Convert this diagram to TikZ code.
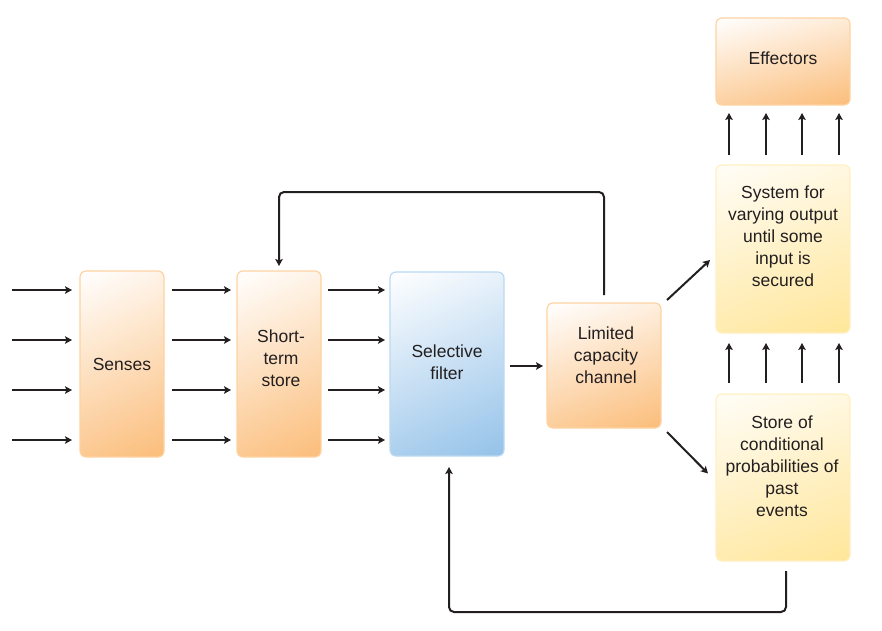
\documentclass[tikz,border=0pt]{standalone}
\usepackage{fontspec}
\setmainfont{Liberation Sans}
\usetikzlibrary{arrows.meta,calc,shadings}
\definecolor{ink}{HTML}{231F20}
\definecolor{orA}{HTML}{FBBD7A}
\definecolor{orL}{HTML}{FDD3A2}
\definecolor{blA}{HTML}{94C2E9}
\definecolor{blL}{HTML}{BCD9F1}
\definecolor{yeA}{HTML}{FFE699}
\definecolor{yeL}{HTML}{FFEFC2}
\tikzset{
  boxbase/.style={rectangle, rounded corners=6pt, inner sep=0pt, outer sep=0pt, line width=1.2pt},
  gbox/.style n args={4}{boxbase, draw=#4, upper left=#1!#2!white, upper right=#1!#3!white,
     lower left=#1!\the\numexpr 100-#3+#2\relax!white, lower right=#1},
  lbl/.style={text=ink, align=center, font=\fontsize{17.5}{22}\selectfont, inner sep=0pt},
  arr/.style={draw=ink, line width=2pt, -{Stealth[length=7pt,width=7.5pt,inset=1.5pt]}},
}
\begin{document}
\begin{tikzpicture}[x=1pt,y=-1pt]
\useasboundingbox (0,0) rectangle (882,630);
% boxes
\node[gbox={orA}{0}{18}{orL}, minimum width=84pt, minimum height=186pt] (senses) at (122,364) {};
\node[gbox={orA}{0}{18}{orL}, minimum width=84pt, minimum height=186pt] (sts) at (279,364) {};
\node[gbox={blA}{0}{22}{blL}, minimum width=114pt, minimum height=184pt] (filter) at (447,364) {};
\node[gbox={orA}{0}{25}{orL}, minimum width=114pt, minimum height=125pt] (lcc) at (604,365.5) {};
\node[gbox={orA}{0}{30}{orL}, minimum width=134pt, minimum height=87pt] (eff) at (783,61.5) {};
\node[gbox={yeA}{8}{30}{yeL}, minimum width=134pt, minimum height=168pt] (sys) at (783,249) {};
\node[gbox={yeA}{8}{30}{yeL}, minimum width=134pt, minimum height=167pt] (store) at (783,477.5) {};
% labels
\node[lbl] (tsenses) at (122,364) {Senses};
\node[lbl] (tsts) at (281,358) {Short-\\term\\store};
\node[lbl] (tfilter) at (447,362) {Selective\\filter};
\node[lbl] (tlcc) at (606,355) {Limited\\capacity\\channel};
\node[lbl] (teff) at (783,58) {Effectors};
\node[lbl] (tsys) at (783,236) {System for\\varying output\\until some\\input is\\secured};
\node[lbl] (tstore) at (782,466) {Store of\\conditional\\probabilities of\\past\\events};
% row coordinates
\coordinate (r1) at (0,290);
\coordinate (r2) at (0,340);
\coordinate (r3) at (0,390);
\coordinate (r4) at (0,440);
\coordinate (inx) at (12,0);
\foreach \i in {1,2,3,4}{
  \draw[arr, shorten >=8pt] (inx |- r\i) -- (senses.west |- r\i);
  \draw[arr, shorten <=8pt, shorten >=6pt] (senses.east |- r\i) -- (sts.west |- r\i);
  \draw[arr, shorten <=7pt, shorten >=5pt] (sts.east |- r\i) -- (filter.west |- r\i);
}
% filter -> lcc
\coordinate (rm) at (0,366);
\draw[arr, shorten <=6pt, shorten >=4pt] (filter.east |- rm) -- (lcc.west |- rm);
% lcc -> sys, lcc -> store
\draw[arr] ($(lcc.north east)+(6,-3)$) -- ($(sys.west)+(-6,11)$);
\draw[arr] ($(lcc.south east)+(6,4)$) -- ($(store.west)+(-8,-4)$);
% vertical arrow columns
\coordinate (c1) at (729,0);
\coordinate (c2) at (766,0);
\coordinate (c3) at (802,0);
\coordinate (c4) at (839,0);
\foreach \i in {1,2,3,4}{
  \draw[arr, shorten <=10pt, shorten >=8pt] (sys.north -| c\i) -- (eff.south -| c\i);
  \draw[arr, shorten <=11pt, shorten >=10pt] (store.north -| c\i) -- (sys.south -| c\i);
}
% feedback top
\coordinate (fbt) at (0,192);
\draw[arr, rounded corners=5pt, shorten <=8pt, shorten >=5pt] (lcc.north) -- (lcc.north |- fbt) -| (sts.north);
% feedback bottom
\coordinate (fbb) at (0,612);
\coordinate (fbbx) at (786,0);
\coordinate (fbfx) at (449,0);
\draw[arr, rounded corners=5pt, shorten <=10pt, shorten >=11pt] (store.south -| fbbx) -- (fbbx |- fbb) -- (fbfx |- fbb) -- (filter.south -| fbfx);
\end{tikzpicture}
\end{document}
